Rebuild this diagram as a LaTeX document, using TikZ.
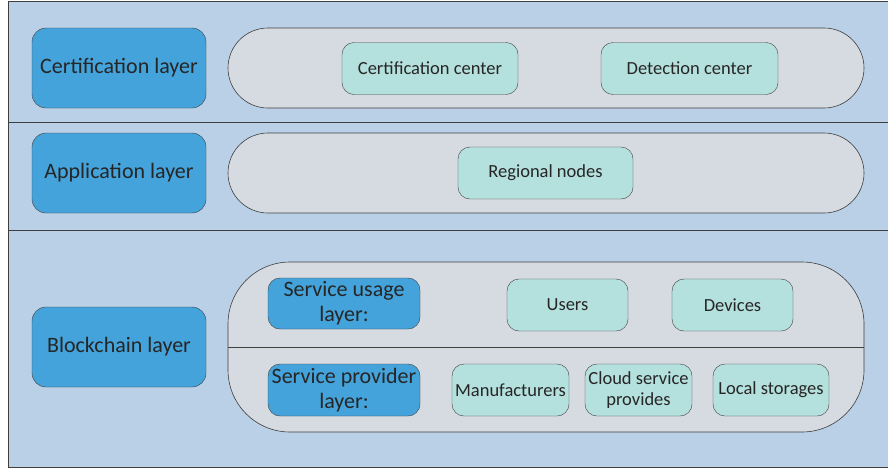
\documentclass[tikz,border=0pt]{standalone}
\usepackage{fontspec}
\setmainfont{Carlito}
\definecolor{fond}{HTML}{B9D0E6}
\definecolor{bleu}{HTML}{44A3DB}
\definecolor{vert}{HTML}{B4E0DD}
\definecolor{gris}{HTML}{D6DAE1}
\definecolor{bord}{HTML}{3F3F3F}
\definecolor{texte}{HTML}{262626}
\begin{document}
\begin{tikzpicture}[x=1pt,y=-1pt,
	couche/.style={draw=bord, fill=bleu, rounded corners=14pt, text=texte, align=center,
		inner sep=0pt, font=\fontsize{22}{25}\selectfont},
	boite/.style={draw=bord, fill=vert, rounded corners=12pt, text=texte, align=center,
		inner sep=0pt, minimum height=52pt, font=\fontsize{18.5}{21}\selectfont},
	piste/.style={draw=bord, fill=gris, line width=0.6pt}]
		\useasboundingbox (0,0) rectangle (888,472);
		\fill[color=fond] (8,1) rectangle (890,467);
		\draw[bord, line width=0.8pt] (892,1) -- (8,1) -- (8,467) -- (892,467);
		\draw[bord, line width=0.8pt] (8,122) -- (892,122);
		\draw[bord, line width=0.8pt] (8,230) -- (892,230);
		%
		% Pistes grises
		%
		\draw[piste, rounded corners=40pt] (228,28) rectangle (864,108);
		\draw[piste, rounded corners=40pt] (228,133) rectangle (864,213);
		\draw[piste, rounded corners=62pt] (228,262) rectangle (864,432);
		\draw[piste] (228,347) -- (864,347);
		%
		% Couches
		%
		\foreach \nom/\y/\t in {cert/68/Certification layer, appli/173/Application layer, bloc/347/Blockchain layer}{
			\node[couche, minimum width=174pt, minimum height=80pt] (\nom) at (119,\y) {\t};
		}
		\node[couche, minimum width=152pt, minimum height=51pt, rounded corners=12pt] (usage) at (344,303.5) {Service usage\\layer:};
		\node[couche, minimum width=152pt, minimum height=52pt, rounded corners=12pt] (fourn) at (344,390) {Service provider\\layer:};
		%
		% Boites
		%
		\foreach \nom/\x/\y/\l/\t in {centre/430/68.5/176/Certification center, detect/689.5/68.5/177/Detection center,
			region/545.5/173/175/Regional nodes, users/567.5/305/121/Users, devices/732.5/305/121/Devices,
			manuf/510.5/390/117/Manufacturers, cloud/638.5/390/107/{Cloud service\\provides}, local/771/390/116/Local storages}{
			\node[boite, minimum width=\l pt] (\nom) at (\x,\y) {\t};
		}
\end{tikzpicture}
\end{document}
